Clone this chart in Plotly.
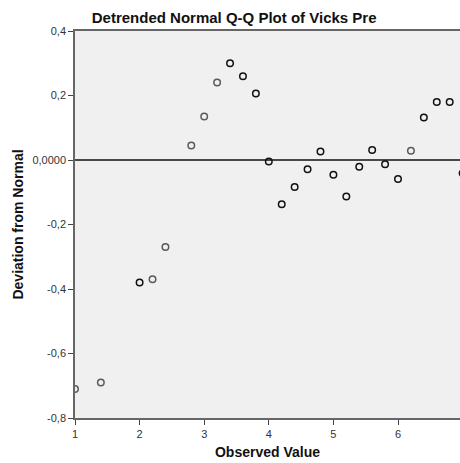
import plotly.graph_objects as go

# Data
observed = [1.0, 1.4, 2.0, 2.2, 2.4, 2.8, 3.0, 3.2, 3.4, 3.6, 3.8, 4.0, 4.2, 4.4,
            4.6, 4.8, 5.0, 5.2, 5.4, 5.6, 5.8, 6.0, 6.2, 6.4, 6.6, 6.8, 7.0]
deviation = [-0.71, -0.69, -0.38, -0.37, -0.27, 0.045, 0.135, 0.24, 0.30, 0.26,
             0.206, -0.005, -0.137, -0.084, -0.029, 0.026, -0.046, -0.113, -0.021,
             0.031, -0.013, -0.059, 0.029, 0.132, 0.18, 0.18, -0.041]
# number of cases at each observed value (overlaps render darker)
cases = [1, 1, 2, 1, 1, 1, 1, 1, 2, 2, 2, 3, 3, 2, 2, 2, 2, 2, 2, 3, 3, 2, 1, 2, 2, 2, 2]

y_tick_vals = [0.4, 0.2, 0.0, -0.2, -0.4, -0.6, -0.8]
y_tick_text = ["0,4", "0,2", "0,0000", "-0,2", "-0,4", "-0,6", "-0,8"]
x_tick_vals = [1, 2, 3, 4, 5, 6, 7]
x_tick_text = ["1", "2", "3", "4", "5", "6", "7"]

title_text = "Detrended Normal Q-Q Plot of Vicks Pre"
x_title = "Observed Value"
y_title = "Deviation from Normal"

colors = ["#111111" if c > 1 else "#5a5a5a" for c in cases]

fig = go.Figure()
fig.add_trace(go.Scatter(
    x=observed, y=deviation, mode="markers",
    marker=dict(symbol="circle-open", size=6.5, color=colors,
                line=dict(width=1.5, color=colors)),
    showlegend=False, hoverinfo="skip",
))

fig.add_shape(type="line", xref="paper", x0=0, x1=1, yref="y", y0=0, y1=0,
              line=dict(color="#111111", width=1.3), layer="above")

font_family = "Liberation Sans, Arial, sans-serif"

fig.update_layout(
    width=460, height=463,
    margin=dict(l=75, r=0, t=31, b=45),
    paper_bgcolor="white",
    plot_bgcolor="#F0F0F0",
    font=dict(family=font_family, color="#222222", size=11),
    title=dict(text="<b>" + title_text + "</b>", x=0.509, xanchor="center",
               y=1 - 18 / 463, yanchor="middle", yref="container",
               font=dict(size=15, color="#111111")),
    xaxis=dict(range=[1, 1 + (460 - 75) / 64.6], tickvals=x_tick_vals, ticktext=x_tick_text,
               showgrid=False, zeroline=False, showline=True, linecolor="#666666",
               linewidth=1.5, mirror=True, ticks="outside", ticklen=5, tickcolor="#444444",
               tickwidth=1.3, tickfont=dict(size=11, color="#333333"),
               title=dict(text="<b>" + x_title + "</b>", font=dict(size=14, color="#111111"),
                          standoff=8)),
    yaxis=dict(range=[-0.8, 0.4], tickvals=y_tick_vals, ticktext=y_tick_text,
               showgrid=False, zeroline=False, showline=True, linecolor="#666666",
               linewidth=1.5, mirror=False, ticks="outside", ticklen=5, tickcolor="#444444",
               tickwidth=1.3, tickfont=dict(size=11, color="#333333"),
               title=dict(text="<b>" + y_title + "</b>", font=dict(size=14, color="#111111"),
                          standoff=5)),
)

fig.write_html("out.html")
